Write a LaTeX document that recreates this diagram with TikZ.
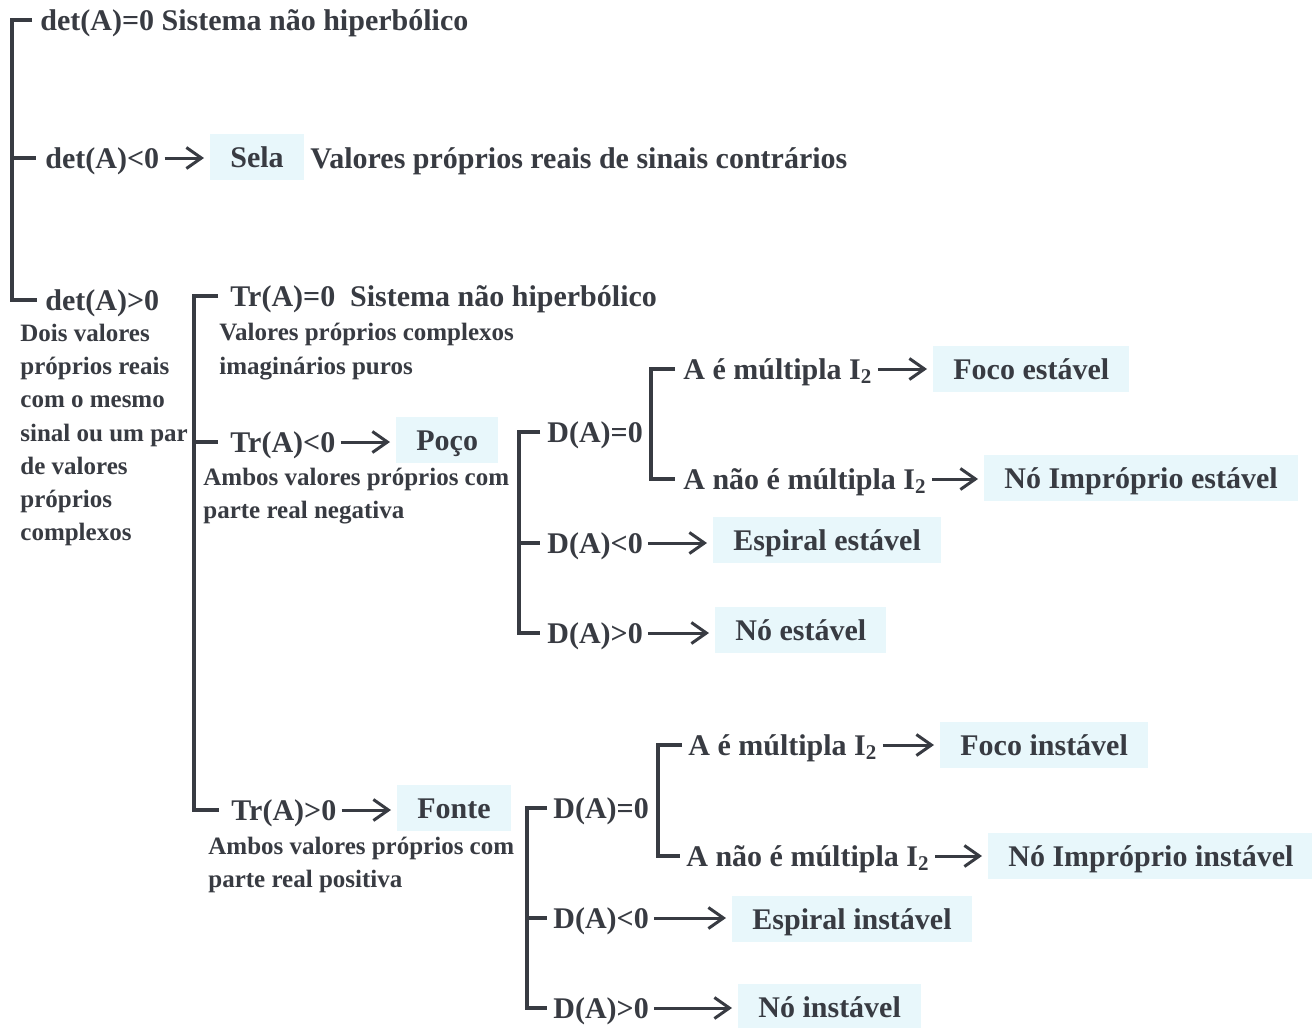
\documentclass[tikz,border=0pt]{standalone}
\usepackage{fontspec}
\setmainfont{Liberation Serif}
\usetikzlibrary{arrows.meta}
\definecolor{ink}{HTML}{383B42}
\definecolor{hl}{HTML}{E8F7FB}
\begin{document}
\begin{tikzpicture}[x=0.5pt,y=-0.5pt,
  lbl/.style={anchor=west, inner xsep=0pt, inner ysep=0pt, text=ink,
    font=\fontsize{15}{18}\selectfont\bfseries, text height=13.5pt, text depth=3.5pt},
  sml/.style={anchor=base west, inner sep=0pt, text=ink,
    font=\fontsize{12.5}{16}\selectfont\bfseries},
  res/.style={lbl, fill=hl, inner xsep=10pt, inner ysep=3pt},
  br/.style={draw=ink, line width=1.6pt, shorten <=#1, shorten >=#1},
  br/.default=4pt,
  tk/.style={draw=ink, line width=1.6pt, shorten >=#1},
  tk/.default=4pt,
  arr/.style={draw=ink, line width=1.5pt,
    -{Straight Barb[length=7.5pt,width=10.5pt,line width=1.5pt]},
    shorten <=2.5pt, shorten >=3pt}]
\fill[white] (0,0) rectangle (1312,1028);
\useasboundingbox (0,0) rectangle (1312,1028);

% bracket spines
\coordinate (v1) at (12,0);
\coordinate (v2) at (194,0);
\coordinate (v3) at (519,0);
\coordinate (v4) at (651,0);
\coordinate (v5) at (527,0);
\coordinate (v6) at (658,0);

% level 1
\node[lbl] (a0) at (40,20) {det(A)=0 Sistema não hiperbólico};
\node[lbl] (a1) at (45,158) {det(A)<0};
\node[res] (sela) at (210,157) {Sela};
\node[lbl] (a1t) at (310,158) {Valores próprios reais de sinais contrários};
\node[lbl] (a2) at (45,300) {det(A)>0};
\node[sml] (l1) at (20,341) {Dois valores};
\node[sml] (l2) at (20,374) {próprios reais};
\node[sml] (l3) at (20,407) {com o mesmo};
\node[sml] (l4) at (20,441) {sinal ou um par};
\node[sml] (l5) at (20,474) {de valores};
\node[sml] (l6) at (20,507) {próprios};
\node[sml] (l7) at (20,540) {complexos};

% level 2
\node[lbl] (t0) at (230,296) {Tr(A)=0\ \ Sistema não hiperbólico};
\node[sml] (t0a) at (219,340) {Valores próprios complexos};
\node[sml] (t0b) at (219,374) {imaginários puros};
\node[lbl] (t1) at (230,442) {Tr(A)<0};
\node[res] (poco) at (396,440) {Poço};
\node[sml] (t1a) at (203,485) {Ambos valores próprios com};
\node[sml] (t1b) at (203,518) {parte real negativa};
\node[lbl] (t2) at (231,810) {Tr(A)>0};
\node[res] (fonte) at (397,808) {Fonte};
\node[sml] (t2a) at (208,854) {Ambos valores próprios com};
\node[sml] (t2b) at (208,887) {parte real positiva};

% stable branch
\node[lbl] (d0) at (547,432) {D(A)=0};
\node[lbl] (d1) at (547,543) {D(A)<0};
\node[lbl] (d2) at (547,633) {D(A)>0};
\node[lbl] (m0) at (683,369) {A é múltipla I\textsubscript{2}};
\node[lbl] (m1) at (683,479) {A não é múltipla I\textsubscript{2}};
\node[res] (fe) at (933,369) {Foco estável};
\node[res] (nie) at (984,478) {Nó Impróprio estável};
\node[res] (ee) at (713,540) {Espiral estável};
\node[res] (ne) at (715,630) {Nó estável};

% unstable branch
\node[lbl] (e0) at (553,808) {D(A)=0};
\node[lbl] (e1) at (553,918) {D(A)<0};
\node[lbl] (e2) at (553,1008) {D(A)>0};
\node[lbl] (f0) at (688,745) {A é múltipla I\textsubscript{2}};
\node[lbl] (f1) at (686,856) {A não é múltipla I\textsubscript{2}};
\node[res] (fi) at (940,745) {Foco instável};
\node[res] (nii) at (988,856) {Nó Impróprio instável};
\node[res] (ei) at (732,919) {Espiral instável};
\node[res] (ni) at (738,1007) {Nó instável};

% brackets
\draw[br] (a0.west) -- (a0.west -| v1) -- (a2.west -| v1) -- (a2.west);
\draw[tk=4.5pt] (a1.west -| v1) -- (a1.west);
\draw[br=6pt] (t0.west) -- (t0.west -| v2) -- (t2.west -| v2) -- (t2.west);
\draw[tk=6pt] (t1.west -| v2) -- (t1.west);
\draw[br=3.5pt] (d0.west) -- (d0.west -| v3) -- (d2.west -| v3) -- (d2.west);
\draw[tk=3.5pt] (d1.west -| v3) -- (d1.west);
\draw[br] (m0.west) -- (m0.west -| v4) -- (m1.west -| v4) -- (m1.west);
\draw[br=3pt] (e0.west) -- (e0.west -| v5) -- (e2.west -| v5) -- (e2.west);
\draw[tk=3pt] (e1.west -| v5) -- (e1.west);
\draw[br=3pt] (f0.west) -- (f0.west -| v6) -- (f1.west -| v6) -- (f1.west);

% arrows
\draw[arr] (a1.east) -- (a1.east -| sela.west);
\draw[arr] (t1.east) -- (t1.east -| poco.west);
\draw[arr] (t2.east) -- (t2.east -| fonte.west);
\draw[arr] (m0.east) -- (m0.east -| fe.west);
\draw[arr] (m1.east) -- (m1.east -| nie.west);
\draw[arr] (d1.east) -- (d1.east -| ee.west);
\draw[arr] (d2.east) -- (d2.east -| ne.west);
\draw[arr] (f0.east) -- (f0.east -| fi.west);
\draw[arr] (f1.east) -- (f1.east -| nii.west);
\draw[arr] (e1.east) -- (e1.east -| ei.west);
\draw[arr] (e2.east) -- (e2.east -| ni.west);
\end{tikzpicture}
\end{document}
